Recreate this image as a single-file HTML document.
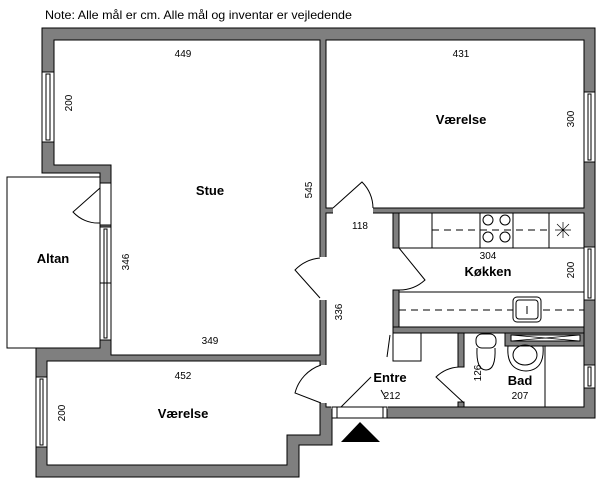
<!DOCTYPE html>
<html><head><style>
body{margin:0;background:#fff;}
svg{display:block;font-family:"Liberation Sans",sans-serif;}
</style></head><body>
<svg width="600" height="483" viewBox="0 0 600 483" xmlns="http://www.w3.org/2000/svg">
<text x="45" y="19" font-size="12" textLength="307" lengthAdjust="spacingAndGlyphs" fill="#000">Note: Alle mål er cm. Alle mål og inventar er vejledende</text>
<!-- Altan -->
<rect x="7" y="177" width="93" height="171" fill="#fff" stroke="#000" stroke-width="1"/>
<!-- outer grey -->
<polygon points="42,28 595,28 595,418 332,418 332,445 299,445 299,477 36,477 36,348 100,348 100,173 42,173" fill="#7f7f7f" stroke="#000" stroke-width="1"/>
<g fill="#fff" stroke="#000" stroke-width="1">
<polygon points="54,40 320,40 320,355 111,355 111,165 54,165"/>
<rect x="326" y="40" width="258" height="168"/>
<polygon points="47,361 320,361 320,435 287,435 287,465 47,465"/>
<rect x="326" y="213" width="258" height="194"/>
</g>
<g fill="#fff">
<rect x="333" y="207" width="40" height="7"/>
<rect x="319" y="257" width="8" height="43"/>
<rect x="319" y="365" width="8" height="38"/>
<rect x="331" y="406" width="57" height="3"/>
</g>
<!-- interior walls -->
<g fill="#7f7f7f" stroke="#000" stroke-width="1">
<rect x="393" y="213" width="6" height="35"/>
<rect x="393" y="290" width="6" height="43"/>
<rect x="393" y="327" width="191" height="6"/>
<rect x="458" y="333" width="6" height="34"/>
<rect x="458" y="402" width="6" height="5"/>
<rect x="505" y="333" width="79" height="13"/>
</g>
<!-- entry threshold -->
<rect x="332" y="407" width="55" height="11" fill="#fff" stroke="#000"/>
<line x1="337" y1="407" x2="337" y2="418" stroke="#000"/>
<line x1="383" y1="407" x2="383" y2="418" stroke="#000"/>
<polygon points="360,422 341,442 380,442" fill="#000"/>
<!-- windows -->
<g fill="#fff" stroke="#000" stroke-width="1">
<rect x="42" y="72" width="12" height="70"/><rect x="46" y="74" width="4" height="66"/>
<rect x="584" y="92" width="11" height="70"/><rect x="588" y="94" width="3" height="66"/>
<rect x="100" y="227" width="11" height="113"/><rect x="104" y="229" width="3" height="109"/>
<rect x="584" y="247" width="11" height="53"/><rect x="588" y="249" width="3" height="49"/>
<rect x="584" y="365" width="11" height="23"/><rect x="588" y="367" width="3" height="19"/>
<rect x="36" y="377" width="11" height="70"/><rect x="40" y="379" width="3" height="66"/>
<rect x="100" y="183" width="11" height="42"/>
<rect x="511" y="335" width="69" height="6"/>
</g>
<line x1="100" y1="283" x2="111" y2="283" stroke="#000"/>
<path d="M511,335 L580,341 M511,341 L580,335" stroke="#000" stroke-width="0.7"/>
<!-- doors -->
<g fill="none" stroke="#000" stroke-width="1">
<path d="M100,188 L73,212 A34,34 0 0 0 100,223"/>
<path d="M333,208 L362,182 A38,38 0 0 1 373,208"/>
<path d="M320,298 L295,270 A40,40 0 0 1 320,258"/>
<path d="M321,403 L295,393 A40,40 0 0 1 321,365"/>
<path d="M399,248 L425,280 A38,38 0 0 1 399,290"/>
<path d="M464,403 L436,377 A36,36 0 0 1 459,367"/>
<path d="M371,377 L341,407"/>
<path d="M381,390 L385,397"/>
<rect x="393" y="333" width="28" height="28"/>
<path d="M390,335 L387,357"/>
</g>
<!-- kitchen -->
<g fill="none" stroke="#000" stroke-width="1">
<rect x="399" y="213" width="185" height="35"/>
<line x1="432" y1="213" x2="432" y2="248"/><line x1="480" y1="213" x2="480" y2="248"/>
<line x1="513" y1="213" x2="513" y2="248"/><line x1="549" y1="213" x2="549" y2="248"/>
<line x1="432" y1="230" x2="549" y2="230" stroke-dasharray="7,5"/>
<circle cx="488" cy="220" r="5"/><circle cx="505" cy="220" r="5"/>
<circle cx="488" cy="237" r="5"/><circle cx="505" cy="237" r="5"/>
<path d="M563,222 L563,238 M555,230 L571,230 M557,224 L569,236 M569,224 L557,236" stroke-width="0.7"/>
<rect x="399" y="292" width="185" height="35"/>
<line x1="399" y1="310" x2="584" y2="310" stroke-dasharray="7,5"/>
<rect x="513" y="297" width="28" height="25" rx="4" fill="#fff"/>
<rect x="516" y="300" width="22" height="19" rx="3"/>
<line x1="527" y1="306" x2="527" y2="314"/>
<!-- toilet -->
<rect x="476" y="334" width="20" height="14" rx="6"/>
<path d="M477,348 Q476,370 486,370 Q496,370 495,348"/>
<!-- basin -->
<path d="M508,346 L543,346 Q545,370 526,371 Q506,370 508,346 Z"/>
<ellipse cx="525" cy="355" rx="12" ry="10"/>
<line x1="545" y1="346" x2="545" y2="407"/>
</g>
<!-- labels -->
<g font-size="10" fill="#000" text-anchor="middle">
<text x="183" y="57">449</text>
<text x="461" y="57">431</text>
<text x="360" y="229">118</text>
<text x="488" y="259">304</text>
<text x="210" y="344">349</text>
<text x="183" y="379">452</text>
<text x="392" y="399">212</text>
<text x="520" y="399">207</text>
<text transform="translate(72,103) rotate(-90)">200</text>
<text transform="translate(574,119) rotate(-90)">300</text>
<text transform="translate(312,190) rotate(-90)">545</text>
<text transform="translate(129,262) rotate(-90)">346</text>
<text transform="translate(342,312) rotate(-90)">336</text>
<text transform="translate(574,270) rotate(-90)">200</text>
<text transform="translate(481,373) rotate(-90)">126</text>
<text transform="translate(65,413) rotate(-90)">200</text>
</g>
<g font-size="13" font-weight="bold" fill="#000" text-anchor="middle">
<text x="210" y="195">Stue</text>
<text x="461" y="124">Værelse</text>
<text x="53" y="263">Altan</text>
<text x="488" y="276">Køkken</text>
<text x="390" y="382">Entre</text>
<text x="520" y="385">Bad</text>
<text x="183" y="418">Værelse</text>
</g>
</svg>
</body></html>
